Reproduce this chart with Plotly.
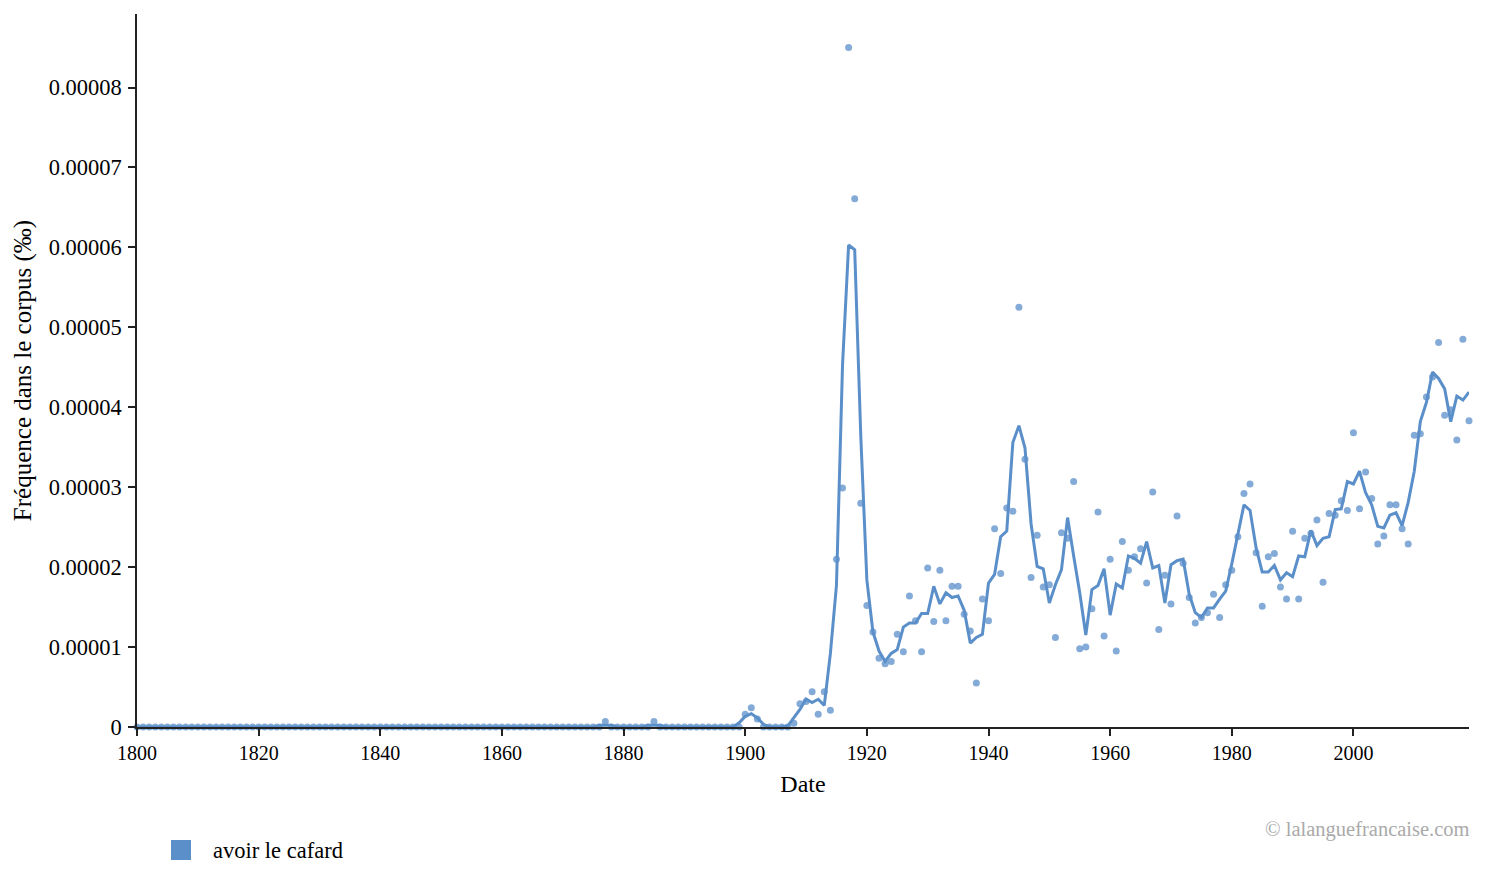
import plotly.graph_objects as go

# ---------------- data (frequency in units of 1e-5 ‰) ----------------
years = list(range(1800, 2020))

# yearly raw values (dots)
raw_1800_1899 = ([0.0] * 77 + [0.07] + [0.0] * 7 + [0.07] + [0.0] * 14)
raw_1900_2019 = [
    0.16, 0.24, 0.10, 0.0, 0.0, 0.0, 0.0, 0.0, 0.046, 0.29,      # 1900-1909
    0.32, 0.44, 0.16, 0.44, 0.21, 2.10, 2.99, 8.50, 6.61, 2.80,  # 1910-1919
    1.52, 1.19, 0.86, 0.79, 0.82, 1.16, 0.94, 1.64, 1.33, 0.94,  # 1920-1929
    1.99, 1.32, 1.96, 1.33, 1.76, 1.76, 1.41, 1.20, 0.55, 1.60,  # 1930-1939
    1.33, 2.48, 1.92, 2.74, 2.70, 5.25, 3.35, 1.87, 2.40, 1.75,  # 1940-1949
    1.78, 1.12, 2.43, 2.36, 3.07, 0.98, 1.00, 1.48, 2.69, 1.14,  # 1950-1959
    2.10, 0.95, 2.32, 1.96, 2.13, 2.23, 1.80, 2.94, 1.22, 1.90,  # 1960-1969
    1.54, 2.64, 2.05, 1.62, 1.30, 1.37, 1.43, 1.66, 1.37, 1.78,  # 1970-1979
    1.96, 2.38, 2.92, 3.04, 2.18, 1.51, 2.13, 2.17, 1.75, 1.60,  # 1980-1989
    2.45, 1.60, 2.36, 2.42, 2.59, 1.81, 2.67, 2.65, 2.83, 2.71,  # 1990-1999
    3.68, 2.73, 3.19, 2.86, 2.29, 2.39, 2.78, 2.78, 2.48, 2.29,  # 2000-2009
    3.65, 3.67, 4.13, 4.38, 4.81, 3.90, 3.97, 3.59, 4.85, 3.83,  # 2010-2019
]
raw_values = raw_1800_1899 + raw_1900_2019

# smoothed curve (line)
smooth_1800_1899 = ([0.0] * 76 + [0.023, 0.023, 0.023] + [0.0] * 5 +
                    [0.023, 0.023, 0.023] + [0.0] * 12 + [0.053])
smooth_1900_2019 = [
    0.133, 0.167, 0.113, 0.033, 0.0, 0.0, 0.0, 0.015, 0.112, 0.219,  # 1900-1909
    0.35, 0.307, 0.347, 0.27, 0.917, 1.77, 4.53, 6.03, 5.97, 3.64,   # 1910-1919
    1.84, 1.19, 0.95, 0.82, 0.92, 0.97, 1.25, 1.30, 1.30, 1.42,      # 1920-1929
    1.42, 1.76, 1.54, 1.68, 1.62, 1.64, 1.46, 1.05, 1.12, 1.16,      # 1930-1939
    1.80, 1.91, 2.38, 2.45, 3.56, 3.77, 3.49, 2.54, 2.01, 1.98,      # 1940-1949
    1.55, 1.78, 1.97, 2.62, 2.14, 1.68, 1.15, 1.72, 1.77, 1.98,      # 1950-1959
    1.40, 1.79, 1.74, 2.14, 2.11, 2.05, 2.32, 1.99, 2.02, 1.55,      # 1960-1969
    2.03, 2.08, 2.10, 1.66, 1.43, 1.37, 1.49, 1.49, 1.60, 1.70,      # 1970-1979
    2.04, 2.42, 2.78, 2.71, 2.24, 1.94, 1.94, 2.02, 1.84, 1.93,      # 1980-1989
    1.88, 2.14, 2.13, 2.46, 2.27, 2.36, 2.38, 2.72, 2.73, 3.07,      # 1990-1999
    3.04, 3.20, 2.93, 2.78, 2.51, 2.49, 2.65, 2.68, 2.52, 2.81,      # 2000-2009
    3.20, 3.82, 4.06, 4.44, 4.36, 4.23, 3.82, 4.14, 4.09, 4.19,      # 2010-2019
]
smooth_values = smooth_1800_1899 + smooth_1900_2019

SCALE = 1e-5
raw_y = [v * SCALE for v in raw_values]
smooth_y = [v * SCALE for v in smooth_values]

series_name = "avoir le cafard"
y_tick_vals = [0, 1e-5, 2e-5, 3e-5, 4e-5, 5e-5, 6e-5, 7e-5, 8e-5]
y_tick_text = ["0", "0.00001", "0.00002", "0.00003", "0.00004",
               "0.00005", "0.00006", "0.00007", "0.00008"]
x_tick_vals = [1800, 1820, 1840, 1860, 1880, 1900, 1920, 1940, 1960, 1980, 2000]

# ---------------- styling ----------------
COLOR = "#5b8fc9"
FONT = "Liberation Serif, Times New Roman, serif"

fig = go.Figure()
fig.add_trace(go.Scatter(
    x=years, y=raw_y, mode="markers",
    marker=dict(color=COLOR, size=7, opacity=0.75, line=dict(width=0)),
    showlegend=False, cliponaxis=False, hoverinfo="skip",
))
fig.add_trace(go.Scatter(
    x=years, y=smooth_y, mode="lines",
    line=dict(color=COLOR, width=3),
    showlegend=False, cliponaxis=False,
))

W, H = 1485, 887
L, R, T, B = 137, 16, 14, 160
pw, ph = W - L - R, H - T - B


def px_x(x):
    return (x - L) / pw


def px_y(y):
    return (H - B - y) / ph


fig.update_layout(
    width=W, height=H,
    margin=dict(l=L, r=R, t=T, b=B),
    paper_bgcolor="white", plot_bgcolor="white",
    font=dict(family=FONT, size=20, color="black"),
    showlegend=False,
    xaxis=dict(
        range=[1800, 2019], tickvals=x_tick_vals,
        showgrid=False, zeroline=False,
        showline=True, linecolor="#222", linewidth=1.5,
        ticks="outside", ticklen=7, tickwidth=1.5, tickcolor="#222",
        tickfont=dict(size=20),
        title=dict(text="Date", font=dict(size=24), standoff=12),
    ),
    yaxis=dict(
        range=[0, 8.92e-5], tickvals=y_tick_vals, ticktext=y_tick_text,
        showgrid=False, zeroline=False,
        showline=True, linecolor="#222", linewidth=1.5,
        ticks="outside", ticklen=7, tickwidth=1.5, tickcolor="#222",
        tickfont=dict(size=22.5),
        ticklabelstandoff=2,
        title=dict(text="Fréquence dans le corpus (‰)", font=dict(size=25), standoff=10),
    ),
    shapes=[dict(
        type="rect", xref="paper", yref="paper",
        x0=px_x(171), x1=px_x(191), y0=px_y(860), y1=px_y(840),
        fillcolor=COLOR, line=dict(width=0),
    )],
    annotations=[
        dict(text=series_name, xref="paper", yref="paper",
             x=px_x(211), y=px_y(851), xanchor="left", yanchor="middle",
             showarrow=False, font=dict(size=22.5, color="black")),
        dict(text="© lalanguefrancaise.com", xref="paper", yref="paper",
             x=1.0, y=px_y(829), xanchor="right", yanchor="middle",
             xshift=3, showarrow=False, font=dict(size=20.5, color="#aaaaaa")),
    ],
)

fig.write_html("out.html")
